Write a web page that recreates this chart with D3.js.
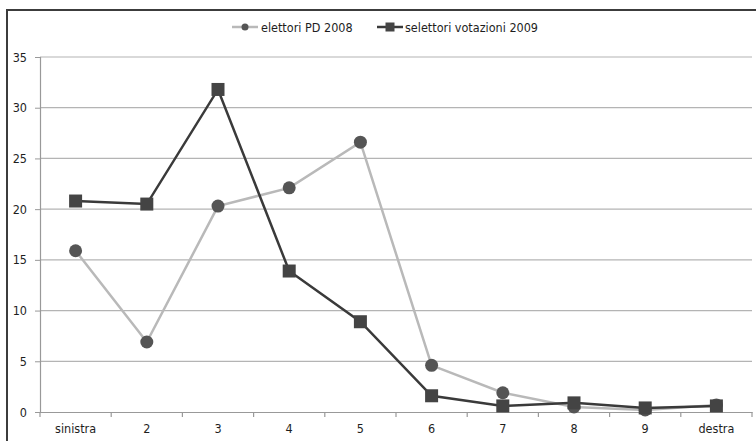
<!DOCTYPE html>
<html>
<head>
<meta charset="utf-8">
<script src="https://cdn.jsdelivr.net/npm/d3@7"></script>
<style>
  html, body { margin: 0; padding: 0; background: #fff; }
  svg { display: block; }
  text { font-family: "Liberation Sans Narrow", "Arial Narrow", "DejaVu Sans Condensed", sans-serif; fill: #1e1e1e; }
</style>
</head>
<body>
<svg id="chart" width="756" height="441"></svg>
<script>
// Self-placement on a left–right scale
const categories = ["sinistra", "2", "3", "4", "5", "6", "7", "8", "9", "destra"];
const elettoriPD2008 = [15.9, 6.9, 20.3, 22.1, 26.6, 4.6, 1.9, 0.5, 0.2, 0.7];
const selettori2009 = [20.8, 20.5, 31.8, 13.9, 8.9, 1.6, 0.6, 0.9, 0.4, 0.6];
const yTicks = [0, 5, 10, 15, 20, 25, 30, 35];
const seriesNames = ["elettori PD 2008", "selettori votazioni 2009"];

const svg = d3.select("#chart");
const margin = { left: 40, right: 4, top: 57, bottom: 29 };
const W = 756, H = 441;

const x = d3.scaleBand().domain(categories).range([margin.left, W - margin.right]);
const y = d3.scaleLinear().domain([0, 35]).range([H - margin.bottom, margin.top]);

// outer frame (top and left edges visible)
svg.append("path")
  .attr("d", `M7,${H} V10 H${W}`)
  .attr("fill", "none").attr("stroke", "#3c3c3c").attr("stroke-width", 2);

// horizontal gridlines
svg.append("g").selectAll("line").data(yTicks.filter(d => d > 0)).join("line")
  .attr("x1", margin.left).attr("x2", W - margin.right)
  .attr("y1", d => y(d)).attr("y2", d => y(d))
  .attr("stroke", "#b4b4b4").attr("stroke-width", 1.2);

// y axis
const yAxis = svg.append("g").attr("transform", `translate(${margin.left},0)`)
  .call(d3.axisLeft(y).tickValues(yTicks).tickSize(5).tickPadding(8));
yAxis.select(".domain").attr("stroke", "#999").attr("stroke-width", 1.2);
yAxis.selectAll(".tick line").attr("stroke", "#999");
yAxis.selectAll("text").style("font-size", "12.5px").attr("fill", "#1e1e1e");

// x axis with ticks at category boundaries
const xAxis = svg.append("g").attr("transform", `translate(0,${y(0)})`)
  .call(d3.axisBottom(x).tickSize(0).tickPadding(12));
xAxis.select(".domain").attr("stroke", "#999").attr("stroke-width", 1.2);
xAxis.selectAll("text").style("font-size", "12.5px").attr("fill", "#1e1e1e");
const bounds = categories.map(c => x(c)).concat([x(categories[categories.length - 1]) + x.bandwidth()]);
svg.append("g").selectAll("line").data(bounds).join("line")
  .attr("x1", d => d).attr("x2", d => d)
  .attr("y1", y(0)).attr("y2", y(0) + 5)
  .attr("stroke", "#999").attr("stroke-width", 1.2);

const cx = (d, i) => x(categories[i]) + x.bandwidth() / 2;
const line = d3.line().x((d, i) => cx(d, i)).y(d => y(d));

// series: elettori PD 2008 (light line, round markers)
svg.append("path").datum(elettoriPD2008)
  .attr("d", line).attr("fill", "none")
  .attr("stroke", "#b9b9b9").attr("stroke-width", 2.5);
svg.append("g").selectAll("circle").data(elettoriPD2008).join("circle")
  .attr("cx", cx).attr("cy", d => y(d)).attr("r", 6.5)
  .attr("fill", "#555");

// series: selettori votazioni 2009 (dark line, square markers)
svg.append("path").datum(selettori2009)
  .attr("d", line).attr("fill", "none")
  .attr("stroke", "#3a3a3a").attr("stroke-width", 2.5);
const sq = 13;
svg.append("g").selectAll("rect").data(selettori2009).join("rect")
  .attr("x", (d, i) => cx(d, i) - sq / 2).attr("y", d => y(d) - sq / 2)
  .attr("width", sq).attr("height", sq)
  .attr("fill", "#444");

// legend
const legend = svg.append("g");
const ly = 27;
legend.append("line").attr("x1", 232).attr("x2", 258).attr("y1", ly).attr("y2", ly)
  .attr("stroke", "#b9b9b9").attr("stroke-width", 2.5);
legend.append("circle").attr("cx", 245).attr("cy", ly).attr("r", 3.5).attr("fill", "#555");
legend.append("text").attr("x", 261).attr("y", ly + 4.5).text(seriesNames[0]).style("font-size", "12.5px");
legend.append("line").attr("x1", 377).attr("x2", 403).attr("y1", ly).attr("y2", ly)
  .attr("stroke", "#3a3a3a").attr("stroke-width", 2.5);
legend.append("rect").attr("x", 385.5).attr("y", ly - 4.5).attr("width", 9).attr("height", 9).attr("fill", "#444");
legend.append("text").attr("x", 405).attr("y", ly + 4.5).text(seriesNames[1]).style("font-size", "12.5px");
</script>
</body>
</html>
